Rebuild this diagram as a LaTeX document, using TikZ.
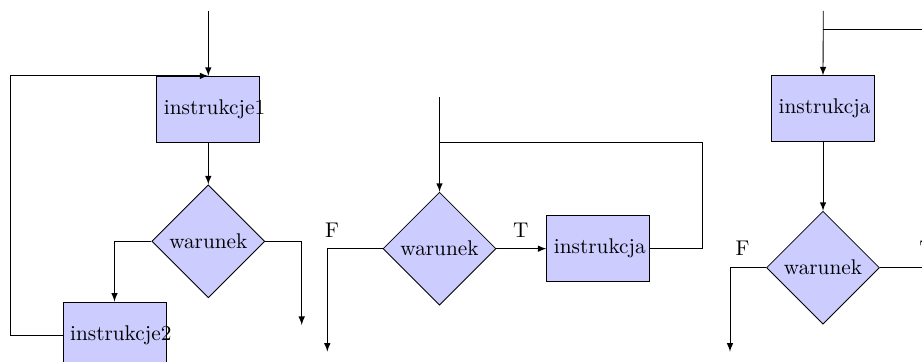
\documentclass[tikz,border=0pt]{standalone}
\usetikzlibrary{shapes.geometric,arrows}
\tikzset{
  boxnode/.style={rectangle, draw, fill=blue!20, minimum width=48.4pt, minimum height=31pt, text width=41.7pt, align=left, inner sep=3.33pt},
  decnode/.style={diamond, aspect=1, draw, fill=blue!20, minimum width=53.1pt, minimum height=53.1pt, inner sep=0pt},
  conn/.style={-latex},
  lbl/.style={inner sep=0pt}
}
\begin{document}
\begin{tikzpicture}[x=0.47pt,y=-0.47pt]
\useasboundingbox (0,0) rectangle (922,362);
\clip (0,0) rectangle (922,362);
% diagram 1
\coordinate (s1) at (208.3,11);
\node[boxnode] (b1) at (208.3,109.3) {\mbox{instrukcje1}};
\node[decnode] (d1) at (208.3,241.3) {warunek};
\node[boxnode] (b2) at (114.5,335) {\mbox{instrukcje2}};
\coordinate (l1) at (10.7,0);
\coordinate (e1) at (301.7,325);
\draw[conn] (s1) -- (b1.north);
\draw[conn] (b1.south) -- (d1.north);
\draw[conn] (d1.west) -| (b2.north);
\draw[conn] (d1.east) -| (e1);
\draw[conn] (b2.west) -- (b2.west -| l1) |- (b1.north);
% diagram 2
\coordinate (s2) at (439.5,97.3);
\node[decnode] (d2) at (439.5,248.7) {warunek};
\node[boxnode] (b3) at (598.3,248.7) {\mbox{instrukcja}};
\coordinate (r2) at (702.5,142.3);
\coordinate (j2) at (439.5,142.3);
\coordinate (e2) at (327.3,351.7);
\draw[conn] (s2) -- (d2.north);
\draw[conn] (d2.east) -- (b3.west);
\draw (b3.east) -| (r2) -- (j2);
\draw[conn] (d2.west) -| (e2);
\node[lbl] (f2) at (332,230) {F};
\node[lbl] (t2) at (520.8,230) {T};
% diagram 3
\coordinate (s3) at (823.3,11);
\node[boxnode] (b4) at (823,108.8) {\mbox{instrukcja}};
\node[decnode] (d3) at (823,267.7) {warunek};
\coordinate (j3) at (823.3,29.3);
\coordinate (r3) at (940,29.3);
\coordinate (e3) at (730,351.7);
\coordinate (t3c) at (940,267.7);
\draw[conn] (s3) -- (b4.north);
\draw (j3) -- (r3);
\draw[conn] (b4.south) -- (d3.north);
\draw[conn] (d3.west) -| (e3);
\draw (d3.east) -- (t3c);
\node[lbl] (f3) at (742.5,248.3) {F};
\node[lbl] (t3) at (927,248.3) {T};
\end{tikzpicture}
\end{document}
